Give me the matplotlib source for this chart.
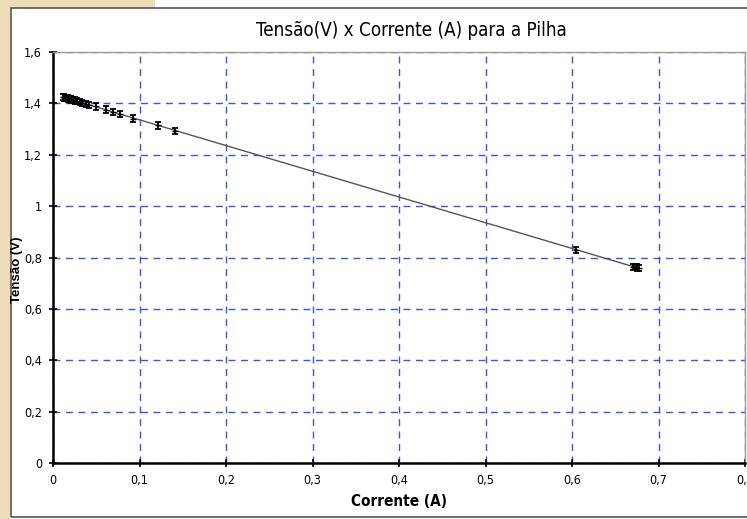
import numpy as np
import matplotlib.pyplot as plt
from matplotlib.patches import Rectangle
from matplotlib.font_manager import fontManager

# fonte estreita (tipo Arial Narrow), se houver
nomes = {f.name for f in fontManager.ttflist}
estreita = {}
if 'Liberation Sans Narrow' in nomes:
    estreita = dict(family='Liberation Sans Narrow')
elif any(f.name == 'DejaVu Sans' and f.stretch == 'condensed' for f in fontManager.ttflist):
    estreita = dict(family='DejaVu Sans', stretch='condensed')

# Dados (corrente em A, tensão em V)
corrente = [0.011, 0.013, 0.015, 0.017, 0.019, 0.021, 0.023, 0.025, 0.028,
            0.031, 0.034, 0.038, 0.042, 0.050, 0.061, 0.069, 0.077, 0.092,
            0.121, 0.141, 0.605, 0.671, 0.673, 0.675, 0.677]
tensao = [1.425, 1.423, 1.421, 1.419, 1.417, 1.415, 1.413, 1.411, 1.408,
          1.405, 1.402, 1.398, 1.394, 1.388, 1.376, 1.368, 1.360, 1.341,
          1.314, 1.292, 0.830, 0.763, 0.762, 0.761, 0.760]
erro_tensao = 0.012

x_ticks = [0, 0.1, 0.2, 0.3, 0.4, 0.5, 0.6, 0.7, 0.8]
y_ticks = [0, 0.2, 0.4, 0.6, 0.8, 1.0, 1.2, 1.4, 1.6]


def fmt(v):
    return ('%g' % round(v, 2)).replace('.', ',')


fig = plt.figure(figsize=(7.47, 5.19), dpi=100)
fig.patch.set_facecolor('white')

# fundo bege do slide e moldura do gráfico
fig.add_artist(Rectangle((0, 0), 10 / 747, 1, transform=fig.transFigure,
                         facecolor='#ecdcb8', edgecolor='none'))
fig.add_artist(Rectangle((0, 1 - 8 / 519), 155 / 747, 8 / 519, transform=fig.transFigure,
                         facecolor='#ecdcb8', edgecolor='none'))
fig.add_artist(Rectangle((11 / 747, 2 / 519), 740 / 747, 509 / 519, transform=fig.transFigure,
                         facecolor='none', edgecolor='#555555', linewidth=1.2))

ax = fig.add_axes([53 / 747, 1 - 463 / 519, 692 / 747, 411 / 519])

# linha de tendência (ajuste linear)
a, b = np.polyfit(corrente, tensao, 1)
xs = np.array([min(corrente), max(corrente)])
ax.plot(xs, a * xs + b, color='#555555', linewidth=1.0, zorder=2)

ax.errorbar(corrente, tensao, yerr=erro_tensao, fmt='_', color='black',
            markersize=5, elinewidth=1.3, capsize=2.5, capthick=1.3, zorder=3)

ax.set_xlim(0, 0.8)
ax.set_ylim(0, 1.6)
ax.set_xticks(x_ticks)
ax.set_yticks(y_ticks)
ax.set_xticklabels([fmt(v) for v in x_ticks], fontsize=9, **estreita)
ax.set_yticklabels([fmt(v) for v in y_ticks], fontsize=9, **estreita)
ax.tick_params(direction='inout', length=6, width=1.2, color='black', pad=5)
ax.tick_params(axis='x', pad=5)

ax.grid(True, color='#3d55d8', linestyle=(0, (5, 4)), linewidth=1.0)
ax.set_axisbelow(True)

for side in ['left', 'bottom']:
    ax.spines[side].set_color('black')
    ax.spines[side].set_linewidth(1.8)
for side in ['top', 'right']:
    ax.spines[side].set_color('#999999')
    ax.spines[side].set_linewidth(1.0)

fig.text(411 / 747, 1 - 30 / 519, 'Tensão(V) x Corrente (A) para a Pilha',
         ha='center', va='center', fontsize=13.5, **estreita)
fig.text(399 / 747, 1 - 501 / 519, 'Corrente (A)', ha='center', va='center',
         fontsize=11, fontweight='bold', **estreita)
fig.text(17 / 747, 1 - 270 / 519, 'Tensão (V)', ha='center', va='center',
         rotation=90, fontsize=9.5, fontweight='bold', family='Liberation Sans')

fig.savefig('out.png', dpi=100)
